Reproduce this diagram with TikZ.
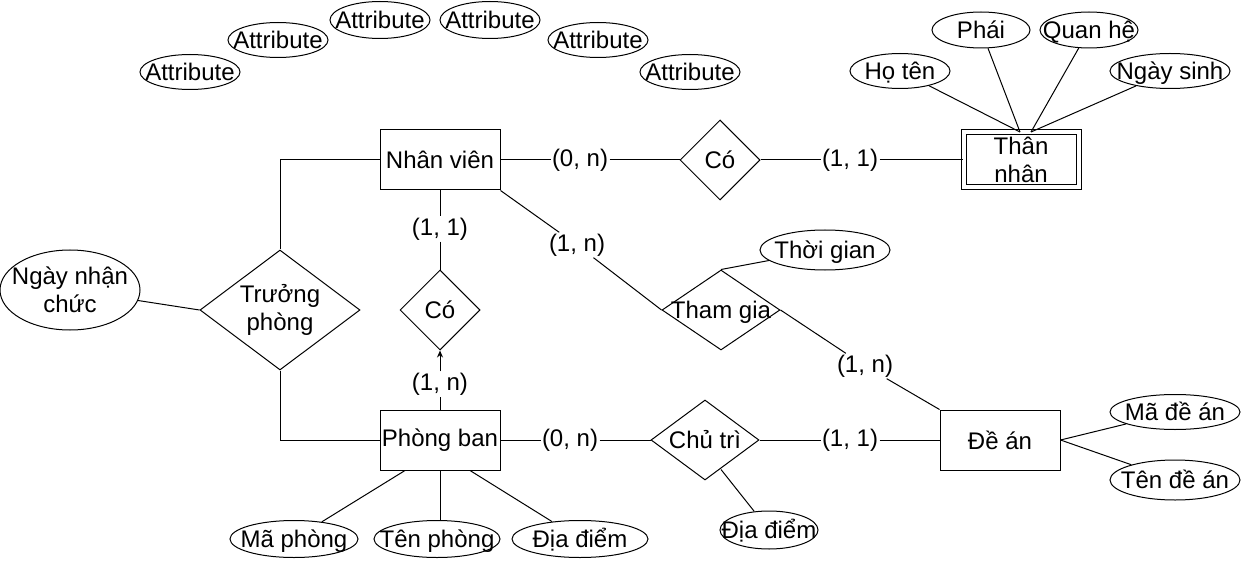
\documentclass[tikz,border=0pt]{standalone}
\usepackage{fontspec}
\setmainfont{Liberation Sans}
\usetikzlibrary{shapes.geometric,arrows.meta}
\begin{document}
\begin{tikzpicture}[x=1pt,y=-1pt,
  every node/.style={font=\fontsize{24}{28}\selectfont},
  every label/.style={text height=17pt, text depth=0pt},
  line width=1pt,
  ent/.style={draw, rectangle, minimum width=120pt, minimum height=60pt, inner sep=0pt, align=center},
  weak/.style={draw, rectangle, double, double distance=4pt, minimum width=115pt, minimum height=55pt, inner sep=0pt, align=center},
  rel/.style={draw, diamond, inner sep=0pt, minimum width=#1},
  attr/.style={draw, ellipse, inner sep=0pt},
  card/.style={inner sep=1pt},
  conn/.style={draw, line width=1pt},
  ml/.style={align=center, text height=, text depth=}
]
\useasboundingbox (0,0) rectangle (1241,561);

% entities
\node[ent] (nv) at (440,160) {Nhân viên};
\node[ent] (pb) at (440,440) {Phòng ban};
\node[ent] (da) at (1000,440) {Đề án};
\node[weak] (tn) at (1021,160) {Thân\\nhân};

% relationships
\node[rel=80pt, minimum height=80pt, label={center:Có}] (co1) at (720,160) {};
\node[rel=80pt, minimum height=80pt, label={center:Có}] (co2) at (440,310) {};
\node[rel=160pt, minimum height=120pt, label={[ml]center:Trưởng\\phòng}] (tp) at (280,310) {};
\node[rel=118pt, minimum height=80pt, label={center:Tham gia}] (tg) at (721,310) {};
\node[rel=108pt, minimum height=80pt, label={center:Chủ trì}] (ct) at (705,440) {};

% free attributes
\node[attr, minimum width=100pt, minimum height=35pt, label={center:Attribute}] (a1) at (190,72) {};
\node[attr, minimum width=100pt, minimum height=35pt, label={center:Attribute}] (a2) at (278,40) {};
\node[attr, minimum width=100pt, minimum height=37pt, label={center:Attribute}] (a3) at (380,20) {};
\node[attr, minimum width=100pt, minimum height=37pt, label={center:Attribute}] (a4) at (490,20) {};
\node[attr, minimum width=100pt, minimum height=35pt, label={center:Attribute}] (a5) at (598,40) {};
\node[attr, minimum width=100pt, minimum height=35pt, label={center:Attribute}] (a6) at (690,72) {};

% Than nhan attributes
\node[attr, minimum width=100pt, minimum height=35pt, label={center:Họ tên}] (ht) at (900,71) {};
\node[attr, minimum width=98pt, minimum height=36pt, label={center:Phái}] (ph) at (981,30) {};
\node[attr, minimum width=98pt, minimum height=36pt, label={center:Quan hệ}] (qh) at (1089,30) {};
\node[attr, minimum width=120pt, minimum height=35pt, label={center:Ngày sinh}] (ns) at (1170,71) {};

% other attributes
\node[attr, minimum width=140pt, minimum height=80pt, label={[ml]center:Ngày nhận\\chức}] (nnc) at (70,290) {};
\node[attr, minimum width=130pt, minimum height=40pt, label={center:Thời gian}] (tgian) at (825,250) {};
\node[attr, minimum width=128pt, minimum height=37pt, label={center:Mã phòng}] (mp) at (294,539) {};
\node[attr, minimum width=126pt, minimum height=37pt, label={center:Tên phòng}] (tph) at (437,539) {};
\node[attr, minimum width=136pt, minimum height=37pt, label={center:Địa điểm}] (dd1) at (580,539) {};
\node[attr, minimum width=98pt, minimum height=38pt, label={center:Địa điểm}] (dd2) at (769,530) {};
\node[attr, minimum width=130pt, minimum height=35pt, label={center:Mã đề án}] (mda) at (1175,412) {};
\node[attr, minimum width=130pt, minimum height=40pt, label={center:Tên đề án}] (tda) at (1175,480) {};

% cardinality labels
\node[card] (c1) at (580,160) {(0, n)};
\node[card] (c2) at (850,160) {(1, 1)};
\node[card] (c3) at (440,229) {(1, 1)};
\node[card] (c4) at (440,384) {(1, n)};
\node[card] (c5) at (577,245) {(1, n)};
\node[card] (c6) at (865,366) {(1, n)};
\node[card] (c7) at (570,440) {(0, n)};
\node[card] (c8) at (850,440) {(1, 1)};

% connectors
\draw[conn] (nv.east) -- (c1) -- (co1.west);
\draw[conn] (co1.east) -- (c2) -- (tn.west);
\draw[conn] (nv.south) -- (c3) -- (co2.north);
\draw[conn] (pb.north) -- (c4);
\draw[conn, -{Stealth[length=7pt,width=6pt]}] (c4) -- (co2.south);
\draw[conn] (nv.south east) -- (c5) -- (tg.west);
\draw[conn] (tg.east) -- (c6) -- (da.north west);
\draw[conn] (tgian) -- (tg.north);
\draw[conn] (pb.east) -- (c7) -- (ct.west);
\draw[conn] (ct.east) -- (c8) -- (da.west);
\draw[conn] (nv.west) -| (tp.north);
\draw[conn] (tp.south) |- (pb.west);
\draw[conn] (nnc) -- (tp.west);
\draw[conn] (ht) -- ([xshift=-1pt]tn.north);
\draw[conn] (ph) -- ([xshift=-1pt]tn.north);
\draw[conn] (qh) -- ([xshift=10pt]tn.north);
\draw[conn] (ns) -- ([xshift=10pt]tn.north);
\draw[conn] ([xshift=-35pt]pb.south) -- (mp);
\draw[conn] (pb.south) -- (pb.south |- tph.north);
\draw[conn] ([xshift=30pt]pb.south) -- (dd1);
\draw[conn] ([xshift=16pt,yshift=11pt]ct.south) -- (dd2);
\draw[conn] (da.east) -- (mda);
\draw[conn] (da.east) -- (tda);
\end{tikzpicture}
\end{document}
